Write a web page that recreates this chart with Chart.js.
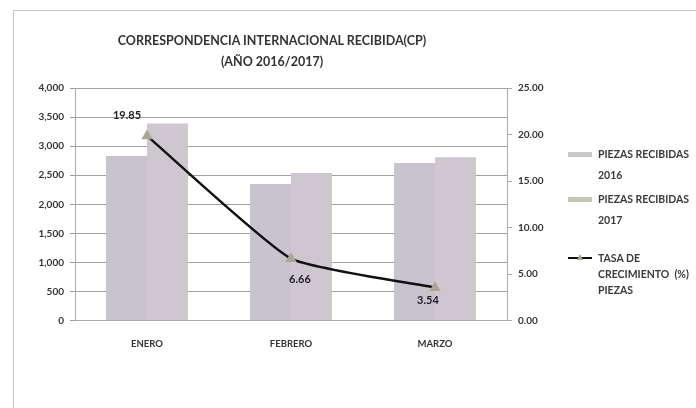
<!DOCTYPE html>
<html>
<head>
<meta charset="utf-8">
<script src="https://cdn.jsdelivr.net/npm/chart.js@4"></script>
<style>
  body{margin:0;background:#fff;font-family:Lato,"Open Sans",sans-serif;}
  #wrap{position:relative;width:696px;height:408px;overflow:hidden;}
  #frame{position:absolute;left:13px;top:10px;width:720px;height:420px;border:1px solid #c4c4c4;}
  #titulo{position:absolute;left:72px;width:400px;top:30px;text-align:center;white-space:nowrap;font-size:12.5px;font-weight:bold;color:#333;line-height:21px;}
  #legend{position:absolute;left:0;top:0;font-size:10.5px;font-weight:bold;color:#3a3a3a;}
  .t{position:absolute;left:598px;white-space:nowrap;line-height:12px;}
  .sw{position:absolute;left:568px;width:24px;height:5px;}
  .ln{position:absolute;left:568px;width:24px;height:2px;background:#111;}
  .ln:after{content:"";position:absolute;left:9px;top:-3px;border-left:3px solid transparent;border-right:3px solid transparent;border-bottom:6px solid #a8a880;}
</style>
</head>
<body>
<div id="wrap">
  <div id="frame"></div>
  <canvas id="c" width="696" height="408"></canvas>
  <div id="titulo"></div>
  <div id="legend"></div>
</div>
<script>
const meses = ["ENERO","FEBRERO","MARZO"];
const piezas2016 = [2830, 2350, 2710];
const piezas2017 = [3390, 2540, 2810];
const tasa = [19.85, 6.66, 3.54];
const tasaTxt = ["19.85","6.66","3.54"];
const tituloLineas = ["CORRESPONDENCIA INTERNACIONAL RECIBIDA(CP)","(AÑO 2016/2017)"];

document.getElementById("titulo").innerHTML = tituloLineas.join("<br>");

/* etiquetas de la linea */
const etiquetas = {
  id:"etiquetas",
  afterDatasetsDraw(chart){
    const meta = chart.getDatasetMeta(2);
    const ctx = chart.ctx;
    const off = [[-20,-20],[9,21],[-7,13]];
    ctx.save();
    ctx.font = "bold 11px Lato, sans-serif";
    ctx.fillStyle = "#222";
    ctx.textAlign = "center";
    ctx.textBaseline = "middle";
    meta.data.forEach((p,i)=>{
      ctx.fillText(tasaTxt[i], p.x+off[i][0], p.y+off[i][1]);
    });
    ctx.restore();
  }
};

new Chart(document.getElementById("c"),{
  data:{
    labels:meses,
    datasets:[
      {type:"bar",label:"PIEZAS RECIBIDAS 2016",data:piezas2016,backgroundColor:"#c9c2cf",yAxisID:"y",order:2,barPercentage:1,categoryPercentage:0.57},
      {type:"bar",label:"PIEZAS RECIBIDAS 2017",data:piezas2017,backgroundColor:"#cec7d0",yAxisID:"y",order:2,barPercentage:1,categoryPercentage:0.57},
      {type:"line",label:"TASA DE CRECIMIENTO (%) PIEZAS",data:tasa,borderColor:"#111",borderWidth:2.5,tension:0.15,
       pointStyle:"triangle",pointRadius:4,pointBackgroundColor:"#a8a890",pointBorderColor:"#a8a890",yAxisID:"y1",order:1}
    ]
  },
  options:{
    responsive:false,
    animation:false,
    layout:{padding:{left:13,top:88,right:144,bottom:48}},
    plugins:{
      legend:{display:false},
      tooltip:{enabled:false},
      title:{display:false}
    },
    scales:{
      x:{
        grid:{display:false},
        border:{color:"#aaa"},
        ticks:{color:"#333",font:{family:"Lato",size:9.5,weight:"bold"},padding:10}
      },
      y:{
        position:"left",min:0,max:4000,
        afterFit(s){s.width=62;},
        grid:{color:"#a0a0a0",tickLength:5},
        border:{color:"#aaa"},
        ticks:{stepSize:500,color:"#333",font:{family:"Lato",size:10,weight:"bold"},padding:6,
          callback:v=>v.toLocaleString("en-US")}
      },
      y1:{
        position:"right",min:0,max:25,
        afterFit(s){s.width=45;},
        grid:{drawOnChartArea:false,color:"#aaa",tickLength:5},
        border:{color:"#aaa"},
        ticks:{stepSize:5,color:"#333",font:{family:"Lato",size:10,weight:"bold"},padding:6,
          callback:v=>v.toFixed(2)}
      }
    }
  },
  plugins:[etiquetas]
});

/* leyenda a la derecha */
const leyenda = [
  {tipo:"sw",color:"#c8c8c8",y:154,txt:["PIEZAS RECIBIDAS","2016"],paso:21},
  {tipo:"sw",color:"#c6c6b6",y:199,txt:["PIEZAS RECIBIDAS","2017"],paso:21},
  {tipo:"ln",y:258,txt:["TASA DE","CRECIMIENTO&nbsp; (%)","PIEZAS"],paso:16}
];
let html = "";
leyenda.forEach(l=>{
  if(l.tipo==="sw") html += `<span class="sw" style="top:${l.y-2}px;background:${l.color}"></span>`;
  else html += `<span class="ln" style="top:${l.y-1}px"></span>`;
  l.txt.forEach((t,i)=>{
    html += `<div class="t" style="top:${l.y-6+i*l.paso}px">${t}</div>`;
  });
});
document.getElementById("legend").innerHTML = html;
</script>
</body>
</html>
